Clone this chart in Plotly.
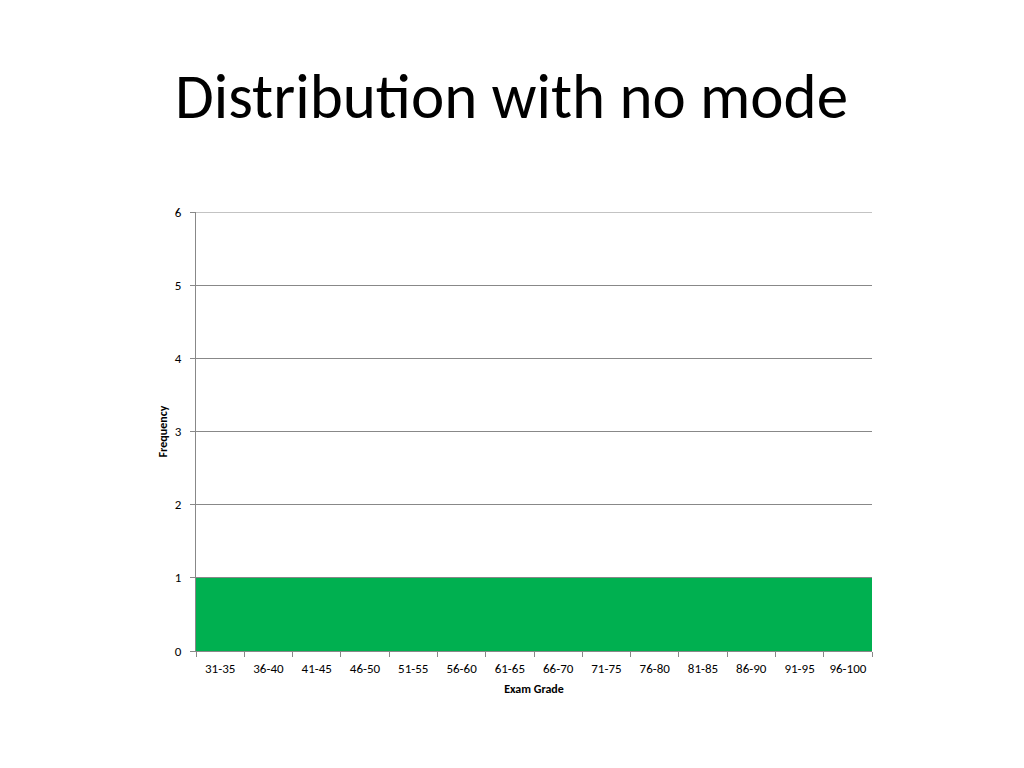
import plotly.graph_objects as go

categories = ["31-35", "36-40", "41-45", "46-50", "51-55", "56-60", "61-65",
              "66-70", "71-75", "76-80", "81-85", "86-90", "91-95", "96-100"]
frequency = [1, 1, 1, 1, 1, 1, 1, 1, 1, 1, 1, 1, 1, 1]
y_ticks = [0, 1, 2, 3, 4, 5, 6]

FONT = "Carlito, Calibri, Lato, sans-serif"

fig = go.Figure(go.Bar(
    x=categories, y=frequency,
    marker=dict(color="#00B050", line=dict(width=0)),
    hoverinfo="x+y",
))

fig.update_layout(
    width=1024, height=768,
    paper_bgcolor="white", plot_bgcolor="white",
    margin=dict(l=188, r=160, t=204, b=125),
    bargap=0,
    showlegend=False,
    font=dict(family=FONT, color="#000000"),
    title=dict(text="Distribution with no mode", x=503.5 / 1024, xanchor="center",
               y=1 - 88 / 768, yanchor="middle",
               font=dict(family=FONT, size=63, color="#000000")),
    shapes=[dict(type="line", xref="paper", x0=0, x1=1, yref="y",
                 y0=y_ticks[-1], y1=y_ticks[-1],
                 line=dict(color="#888888", width=1), layer="below")],
)

fig.update_xaxes(
    type="category",
    tickson="boundaries",
    ticks="outside", ticklen=5, tickcolor="#888888",
    ticklabelstandoff=5,
    showline=True, linecolor="#888888", linewidth=1,
    showgrid=False,
    tickfont=dict(size=13, color="#000000"),
    title=dict(text="<b>Exam Grade</b>", font=dict(size=12, color="#000000"), standoff=10),
)
fig.update_yaxes(
    range=[0, 6], tickvals=y_ticks,
    ticks="outside", ticklen=5, tickcolor="#888888",
    ticklabelstandoff=6,
    showline=True, linecolor="#888888", linewidth=1,
    showgrid=True, gridcolor="#888888", gridwidth=1,
    zeroline=False,
    tickfont=dict(size=13, color="#000000"),
    title=dict(text="<b>Frequency</b>", font=dict(size=12, color="#000000"), standoff=4),
)

fig.write_html("out.html")
